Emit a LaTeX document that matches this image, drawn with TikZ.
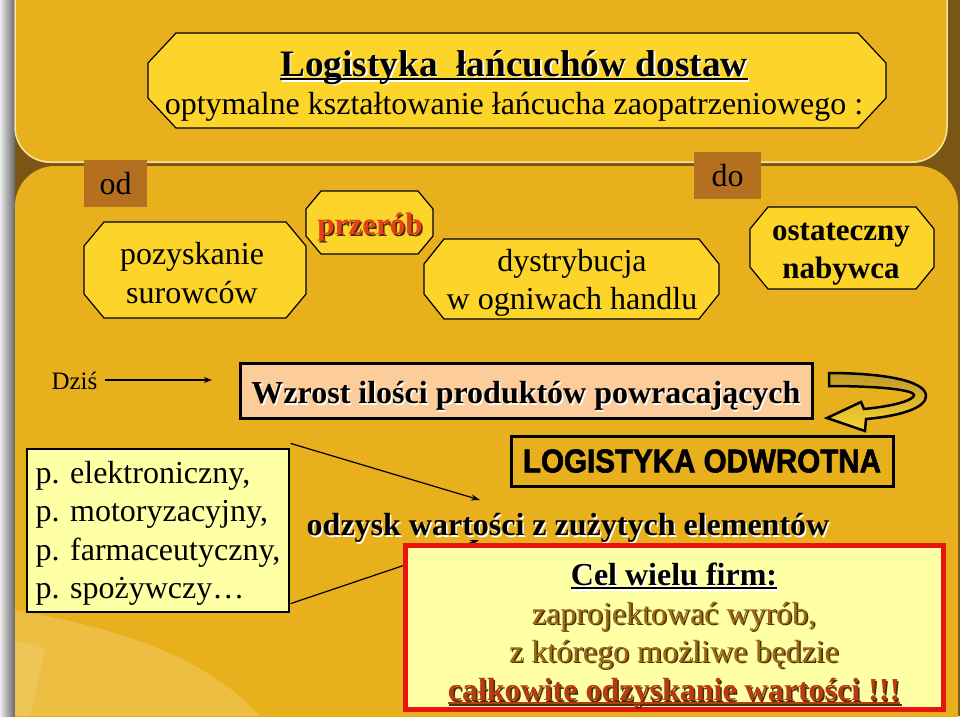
\documentclass[tikz,border=0pt]{standalone}
\usepackage{fontspec}
\usepackage{graphicx}
\setmainfont{Liberation Serif}
\newfontfamily\heavyfont[BoldFeatures={FakeBold=2}]{Liberation Sans}
\usetikzlibrary{arrows.meta}
\frenchspacing

\definecolor{bgdark}{HTML}{7A5614}
\definecolor{panelgold}{HTML}{E8B01C}
\definecolor{panelline}{HTML}{F6E2A2}
\definecolor{octyellow}{HTML}{FCD42A}
\definecolor{labelbrown}{HTML}{B4701E}
\definecolor{peach}{HTML}{FCCC9A}
\definecolor{paleyellow}{HTML}{FFFFA6}
\definecolor{framered}{HTML}{E8140F}
\definecolor{orangered}{HTML}{E8401A}
\definecolor{goldtext}{HTML}{9A6A18}
\definecolor{rusttext}{HTML}{B83A12}
\definecolor{darkshadow}{HTML}{4A3008}
\definecolor{arrowolive}{HTML}{C09A26}
\definecolor{arrowyellow}{HTML}{F8D632}
\definecolor{creamlight}{HTML}{F4D98A}

\newsavebox{\ulbox}
\newcommand{\myul}[1]{\sbox{\ulbox}{#1}\rlap{\rule[-0.11em]{\wd\ulbox}{0.065em}}\usebox{\ulbox}}
\newcommand{\txtshadow}[2]{\leavevmode\rlap{\kern1.5pt\raisebox{-1.5pt}{\color{#1}#2}}#2}
% octagon: x1 y1 x2 y2 chamferx chamfery
\newcommand{\octshape}[6]{%
  \filldraw[fill=octyellow, draw=black, line width=1.2pt, line join=miter]
   ({#1+#5},#2) -- ({#3-#5},#2) -- (#3,{#2+#6}) -- (#3,{#4-#6}) --
   ({#3-#5},#4) -- ({#1+#5},#4) -- (#1,{#4-#6}) -- (#1,{#2+#6}) -- cycle;}

\begin{document}
\begin{tikzpicture}[x=1pt,y=-1pt,
  octtext/.style={inner sep=0pt, align=center, font=\fontsize{32}{38.5}\selectfont},
  lblbox/.style={fill=labelbrown, inner sep=0pt, font=\fontsize{32}{38}\selectfont},
  thinarrow/.style={line width=1.2pt, -{Stealth[length=9pt,width=6pt]}},
  bigbold/.style={font=\fontsize{32}{38.5}\selectfont\bfseries}
]
\useasboundingbox (0,0) rectangle (960,716);

% background
\fill[bgdark] (0,0) rectangle (960,716);
\shade[left color=white!85!gray, right color=black!60] (0,0) rectangle (15,716);
\fill[panelgold, rounded corners=35pt] (15,-40) rectangle (947,163);
\draw[panelline, line width=1.5pt, rounded corners=35pt] (15,-40) rectangle (947,162);
\fill[panelgold, rounded corners=40pt] (15,166) rectangle (958,760);
\fill[creamlight, opacity=0.35] (15,610) .. controls (100,625) and (200,650) .. (260,716) -- (15,716) -- cycle;
\fill[creamlight, opacity=0.3] (15,640) -- (45,650) -- (30,716) -- (15,716) -- cycle;

% title
\octshape{148}{33}{886}{128}{28}{30}
\node[octtext] (title) at (514,86)
  {{\fontsize{37.3}{38.5}\selectfont\bfseries\txtshadow{white}{\myul{Logistyka~~łańcuchów dostaw}}}\\
   optymalne kształtowanie łańcucha zaopatrzeniowego :};

% od / do labels
\node[lblbox, minimum width=63pt, minimum height=47pt] (from) at (115.5,183.5) {od};
\node[lblbox, minimum width=67pt, minimum height=47pt] (to) at (727.5,175.5) {do};

% chain octagons
\octshape{84}{222}{306}{318}{20}{24}
\node[octtext] (raw) at (192,273) {pozyskanie\\surowców};
\octshape{306}{191}{433}{254}{15}{18}
\node[octtext, font=\fontsize{31}{36}\selectfont\bfseries] (proc) at (370,228)
  {\color{orangered}\txtshadow{darkshadow}{przerób}};
\octshape{424}{239}{719}{319}{20}{25}
\node[octtext] (dist) at (572,283) {dystrybucja\\w ogniwach handlu};
\octshape{750}{207}{934}{289}{18}{22}
\node[octtext, font=\fontsize{31}{38}\selectfont\bfseries] (buyer) at (841,254)
  {ostateczny\\nabywca};

% Dzis
\node[inner sep=0pt, font=\fontsize{25}{30}\selectfont] (today) at (74.5,381) {Dziś};
\coordinate (todayend) at (212,380);
\draw[line width=1.2pt, -{Stealth[length=8pt,width=6pt]}, shorten <=7pt] (today.east |- todayend) -- (todayend);

% Wzrost box
\node[draw, line width=3pt, fill=peach, minimum width=572pt, minimum height=55pt,
  inner sep=0pt, text height=32pt, text depth=6pt, bigbold] (rise) at (526,390.5)
  {\txtshadow{white}{Wzrost ilości produktów powracających}};

% U-turn arrow
\shade[top color=arrowolive, bottom color=arrowyellow, draw=black, line width=2.5pt, line join=miter]
  (829,373) .. controls (880,373) and (926,380) .. (926,396)
  .. controls (926,408) and (900,416) .. (866,419)
  -- (865,431) -- (827,418) -- (861,402) -- (864,409)
  .. controls (895,406) and (914,400) .. (914,395)
  .. controls (914,390) and (880,386) .. (829,386) -- cycle;

% logistyka odwrotna
\node[draw, line width=3pt, minimum width=382pt, minimum height=50pt, inner sep=0pt] (rev) at (702,461)
  {\resizebox{358pt}{23pt}{\heavyfont\bfseries LOGISTYKA ODWROTNA}};

% industries list
\node[draw, line width=1.2pt, fill=paleyellow, text width=245pt, inner xsep=8.5pt, inner ysep=0pt,
  minimum height=163pt, align=left, font=\fontsize{32}{38.6}\selectfont] (ind) at (158,530.5)
  {\hyphenpenalty=10000 \rule{0pt}{28pt}p. elektroniczny,\\p. motoryzacyjny,\\p. farmaceutyczny,\\p. spożywczy…};

% connectors
\coordinate (tipA) at (480,500);
\coordinate (tipB) at (479,540);
\draw[thinarrow] ([shift={(1,-5)}]ind.north east) -- (tipA);
\draw[thinarrow] ([shift={(1,-9)}]ind.south east) -- (tipB);

% odzysk
\node[inner sep=0pt, bigbold] (value) at (568,529)
  {\txtshadow{white}{odzysk wartości z zużytych elementów}};

% goal box
\node[draw=framered, line width=5pt, fill=paleyellow, minimum width=538pt, minimum height=163pt,
  inner sep=0pt, align=center, font=\fontsize{32}{38.3}\selectfont] (goal) at (674,627.5)
  {{\bfseries\rule{0pt}{40pt}\txtshadow{white}{\myul{Cel wielu firm:}}}\\
   {\color{goldtext}\txtshadow{darkshadow}{zaprojektować wyrób,}}\\
   {\color{goldtext}\txtshadow{darkshadow}{z którego możliwe będzie}}\\
   {\bfseries\color{rusttext}\txtshadow{darkshadow}{\myul{całkowite odzyskanie wartości !!!}}}};
\end{tikzpicture}
\end{document}
